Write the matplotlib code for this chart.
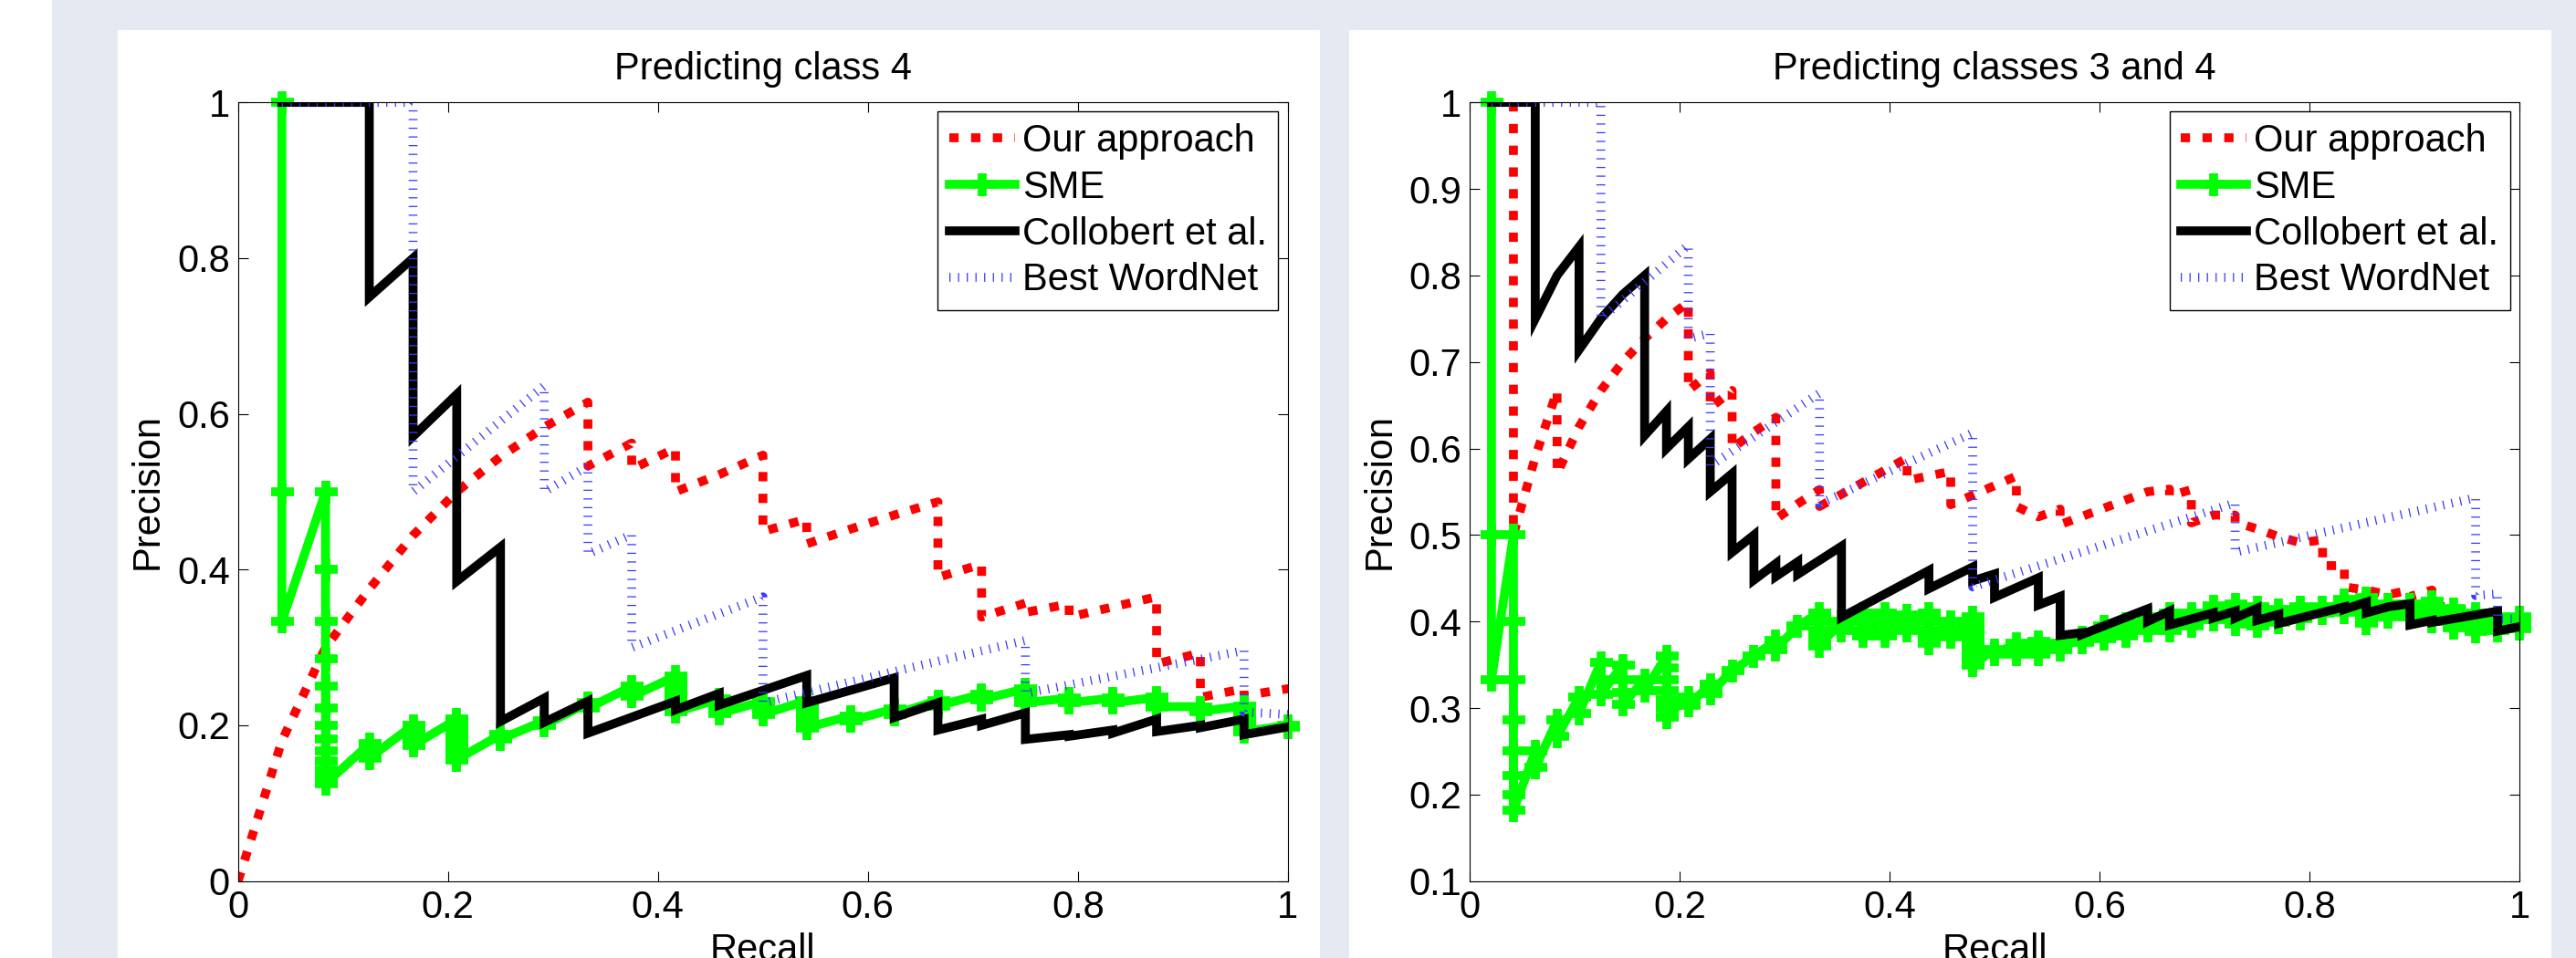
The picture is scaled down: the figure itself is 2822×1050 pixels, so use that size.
import matplotlib.pyplot as plt
from matplotlib.patches import Rectangle
from matplotlib.ticker import FuncFormatter

plt.rcParams['font.family'] = ['Liberation Sans', 'DejaVu Sans']
FS = 30

# ---------------- left panel: "Predicting class 4" (24 positives) ----------------
ours4_x = [0, 0.0417, 0.0833, 0.125, 0.1667, 0.2083, 0.25, 0.2917, 0.3333, 0.3333, 0.375, 0.375,
           0.4167, 0.4167, 0.4583, 0.5, 0.5, 0.5417, 0.5417, 0.5833, 0.625, 0.6667, 0.6667, 0.7083,
           0.7083, 0.75, 0.75, 0.7917, 0.7917, 0.8333, 0.875, 0.875, 0.9167, 0.9167, 0.9583, 0.9583,
           1.0, 1.0]
ours4_y = [0, 0.18, 0.3, 0.375, 0.444, 0.5, 0.545, 0.583, 0.615, 0.533, 0.5625, 0.529,
           0.556, 0.5, 0.522, 0.547, 0.449, 0.465, 0.433, 0.452, 0.47, 0.487, 0.39, 0.407,
           0.339, 0.357, 0.345, 0.356, 0.339, 0.352, 0.365, 0.279, 0.293, 0.236, 0.247, 0.238,
           0.247, 0.228]

sme4_recall = [0.0417, 0.0833, 0.125, 0.1667, 0.2083, 0.25, 0.2917, 0.3333, 0.375, 0.4167, 0.4583,
               0.5, 0.5417, 0.5833, 0.625, 0.6667, 0.7083, 0.75, 0.7917, 0.8333, 0.875, 0.9167,
               0.9583, 1.0]
sme4_prec = [
    [1.0, 0.5, 0.333],
    [0.5, 0.4, 0.333, 0.286, 0.25, 0.222, 0.2, 0.182, 0.167, 0.154, 0.143, 0.133, 0.125],
    [0.176, 0.167, 0.158],
    [0.2, 0.19, 0.182, 0.174],
    [0.208, 0.2, 0.192, 0.185, 0.179, 0.172, 0.167, 0.161, 0.156],
    [0.188, 0.182],
    [0.206, 0.2],
    [0.229, 0.222],
    [0.25, 0.243, 0.237],
    [0.263, 0.256, 0.25, 0.244, 0.238, 0.233, 0.227, 0.222, 0.217],
    [0.234, 0.229, 0.224, 0.22, 0.215],
    [0.231, 0.226, 0.222, 0.218, 0.214],
    [0.232, 0.228, 0.224, 0.22, 0.217, 0.213, 0.21, 0.206, 0.203, 0.2, 0.197],
    [0.212, 0.209, 0.206],
    [0.221, 0.217, 0.214],
    [0.232, 0.229, 0.225],
    [0.24, 0.236, 0.233],
    [0.247, 0.243, 0.24, 0.236, 0.233, 0.229],
    [0.235, 0.232, 0.229],
    [0.235, 0.232, 0.229],
    [0.236, 0.233, 0.23, 0.227, 0.224],
    [0.224, 0.221, 0.218],
    [0.225, 0.222, 0.219, 0.216, 0.213, 0.21, 0.207, 0.204, 0.201, 0.198, 0.195, 0.192],
    [0.2, 0.198],
]

coll4_x = [0.0417, 0.125, 0.125, 0.1667, 0.1667, 0.2083, 0.2083, 0.25, 0.25, 0.2917, 0.2917, 0.3333,
           0.3333, 0.4167, 0.4167, 0.4583, 0.4583, 0.5417, 0.5417, 0.625, 0.625, 0.6667, 0.6667,
           0.7083, 0.7083, 0.75, 0.75, 0.7917, 0.7917, 0.8333, 0.8333, 0.875, 0.875, 0.9167, 0.9167,
           0.9583, 0.9583, 1.0]
coll4_y = [1, 1, 0.75, 0.8, 0.571, 0.625, 0.385, 0.429, 0.205, 0.235, 0.204, 0.231,
           0.19, 0.231, 0.22, 0.241, 0.226, 0.264, 0.229, 0.261, 0.21, 0.229, 0.194,
           0.208, 0.2, 0.216, 0.182, 0.188, 0.186, 0.194, 0.19, 0.208, 0.192, 0.2, 0.197,
           0.208, 0.188, 0.198]

wn4_x = [0.0417, 0.1667, 0.1667, 0.2917, 0.2917, 0.3333, 0.3333, 0.375, 0.375, 0.5, 0.5,
         0.75, 0.75, 0.9583, 0.9583, 1.0]
wn4_y = [1, 1, 0.5, 0.636, 0.5, 0.533, 0.42, 0.445, 0.3, 0.365, 0.229,
         0.309, 0.241, 0.296, 0.217, 0.214]

# ---------------- right panel: "Predicting classes 3 and 4" (48 positives) ----------------
ours34_x = [0.0208, 0.0417, 0.0417, 0.0625, 0.0833, 0.0833, 0.1042, 0.125, 0.1458, 0.1667, 0.1875,
            0.2083, 0.2083, 0.2292, 0.2292, 0.25, 0.25, 0.2708, 0.2917, 0.2917, 0.3125, 0.3333,
            0.3333, 0.4167, 0.4167, 0.4583, 0.4583, 0.5208, 0.5208, 0.5417, 0.5625, 0.5625, 0.6458,
            0.6667, 0.6667, 0.6875, 0.6875, 0.7083, 0.7292, 0.7292, 0.75, 0.7708, 0.7917, 0.8125,
            0.8125, 0.8333, 0.8333, 0.8542, 0.875, 0.8958, 0.8958, 0.9167, 0.9167, 0.9375, 0.9583,
            0.9792, 0.9792, 1.0]
ours34_y = [1.0, 1.0, 0.5, 0.59, 0.667, 0.571, 0.625, 0.667, 0.7, 0.727, 0.75,
            0.769, 0.667, 0.6875, 0.647, 0.667, 0.6, 0.619, 0.636, 0.5185, 0.536, 0.5525,
            0.533, 0.589, 0.563, 0.5736, 0.535, 0.568, 0.533, 0.521, 0.53, 0.512, 0.55,
            0.553, 0.545, 0.5525, 0.514, 0.523, 0.523, 0.515, 0.507, 0.498, 0.491, 0.4945,
            0.4646, 0.4646, 0.44, 0.4364, 0.431, 0.4364, 0.429, 0.4364, 0.42, 0.415, 0.41,
            0.405, 0.394, 0.398]

sme34_recall = [0.0208, 0.0417, 0.0625, 0.0833, 0.1042, 0.125, 0.1458, 0.1667, 0.1875, 0.2083,
                0.2292, 0.25, 0.2708, 0.2917, 0.3125, 0.3333, 0.3542, 0.375, 0.3958, 0.4167,
                0.4375, 0.4583, 0.4792, 0.5, 0.5208, 0.5417, 0.5625, 0.5833, 0.6042, 0.625,
                0.6458, 0.6667, 0.6875, 0.7083, 0.7292, 0.75, 0.7708, 0.7917, 0.8125, 0.8333,
                0.8542, 0.875, 0.8958, 0.9167, 0.9375, 0.9583, 0.9792, 1.0]
sme34_prec = [
    [1.0, 0.5, 0.333],
    [0.5, 0.4, 0.333, 0.286, 0.25, 0.222, 0.2, 0.182],
    [0.25, 0.231],
    [0.286, 0.267],
    [0.3125, 0.294],
    [0.353, 0.333, 0.316],
    [0.35, 0.333, 0.318, 0.304],
    [0.333, 0.32],
    [0.36, 0.346, 0.333, 0.32, 0.31, 0.3, 0.29],
    [0.313, 0.303],
    [0.327, 0.317],
    [0.343],
    [0.36],
    [0.378, 0.368],
    [0.395],
    [0.41, 0.4, 0.39, 0.381, 0.372],
    [0.4, 0.39],
    [0.41, 0.4, 0.39, 0.383],
    [0.41, 0.4, 0.39, 0.383],
    [0.408, 0.398, 0.39],
    [0.41, 0.4, 0.39, 0.382, 0.375],
    [0.4, 0.39, 0.382],
    [0.405, 0.396, 0.387, 0.379, 0.371, 0.363, 0.356, 0.35],
    [0.368, 0.362],
    [0.375, 0.368, 0.362],
    [0.377, 0.37, 0.362],
    [0.375, 0.368],
    [0.382, 0.376],
    [0.395, 0.387, 0.38],
    [0.398, 0.39, 0.383],
    [0.405, 0.398, 0.39],
    [0.41, 0.4, 0.39],
    [0.41, 0.403, 0.395],
    [0.418, 0.41, 0.402],
    [0.42, 0.412, 0.404, 0.397],
    [0.417, 0.41, 0.402, 0.395],
    [0.414, 0.406, 0.399],
    [0.417, 0.41, 0.403],
    [0.417, 0.41],
    [0.425, 0.418, 0.411],
    [0.428, 0.42, 0.412, 0.405, 0.398],
    [0.42, 0.413, 0.405],
    [0.42, 0.413, 0.405],
    [0.423, 0.415, 0.408, 0.4],
    [0.415, 0.408, 0.4, 0.393],
    [0.41, 0.403, 0.396, 0.389],
    [0.405, 0.398, 0.39],
    [0.405, 0.398, 0.392],
]

coll34_x = [0.0208, 0.0625, 0.0625, 0.0833, 0.1042, 0.1042, 0.125, 0.1458, 0.1667, 0.1667, 0.1875,
            0.1875, 0.2083, 0.2083, 0.2292, 0.2292, 0.25, 0.25, 0.2708, 0.2708, 0.2917, 0.2917,
            0.3125, 0.3125, 0.3542, 0.3542, 0.4375, 0.4375, 0.4792, 0.4792, 0.5, 0.5, 0.5417,
            0.5417, 0.5625, 0.5625, 0.5833, 0.5833, 0.6458, 0.6458, 0.6667, 0.6667, 0.7083, 0.7083,
            0.7292, 0.7292, 0.75, 0.75, 0.7708, 0.7708, 0.8333, 0.8333, 0.8542, 0.8542, 0.875,
            0.8958, 0.8958, 0.9167, 0.9167, 0.9792, 0.9792, 1.0]
coll34_y = [1, 1, 0.75, 0.8, 0.833, 0.714, 0.75, 0.778, 0.8, 0.615, 0.643,
            0.6, 0.625, 0.588, 0.611, 0.55, 0.571, 0.48, 0.5, 0.448, 0.467, 0.452,
            0.469, 0.4545, 0.487, 0.405, 0.459, 0.438, 0.463, 0.447, 0.455, 0.428, 0.4505,
            0.419, 0.429, 0.384, 0.387, 0.385, 0.4146, 0.4, 0.412, 0.396, 0.41, 0.404,
            0.412, 0.404, 0.4153, 0.4013, 0.4083, 0.3978, 0.417, 0.414, 0.4224, 0.41, 0.417,
            0.4206, 0.396, 0.4013, 0.399, 0.412, 0.389, 0.394]

wn34_x = [0.0208, 0.125, 0.125, 0.2083, 0.2083, 0.2292, 0.2292, 0.3333, 0.3333, 0.4792, 0.4792,
          0.7292, 0.7292, 0.9583, 0.9583, 0.9792, 0.9792, 1.0]
wn34_y = [1, 1, 0.75, 0.835, 0.727, 0.733, 0.58, 0.664, 0.536, 0.618, 0.44,
          0.537, 0.48, 0.543, 0.43, 0.432, 0.403, 0.403]

labels = ['Our approach', 'SME', 'Collobert et al.', 'Best WordNet']


def flatten(recall, prec):
    xs, ys = [], []
    for r, group in zip(recall, prec):
        for p in group:
            xs.append(r)
            ys.append(p)
    return xs, ys


W, H = 2822, 1050
fig = plt.figure(figsize=(W / 100, H / 100), dpi=100, facecolor='white')

# page background: grey frame with two white panels
GRAY = '#e4e9f2'
fig.add_artist(Rectangle((57 / W, 0), 1 - 57 / W, 1, transform=fig.transFigure,
                         facecolor=GRAY, edgecolor='none', zorder=-10))
for x0, x1 in [(129, 1446), (1478, 2795)]:
    fig.add_artist(Rectangle((x0 / W, 0), (x1 - x0) / W, (H - 33) / H, transform=fig.transFigure,
                             facecolor='white', edgecolor='none', zorder=-9))

fmt = FuncFormatter(lambda v, _: '%g' % round(v, 2))


def draw(ax, title, ox, oy, sx, sy, cx, cy, wx, wy, ylim, yticks, ylabelpad):
    ax.plot(ox, oy, color='#ff0000', lw=7, linestyle=(0, (1.05, 1.4)), label=labels[0])
    ax.plot(sx, sy, color='#00ff00', lw=7, marker='+', ms=18, mew=7, label=labels[1],
            clip_on=False)
    ax.plot(cx, cy, color='black', lw=7, solid_joinstyle='miter', label=labels[2])
    ax.plot(wx, wy, color='#3a3aff', lw=7, linestyle=(0, (0.13, 0.85)), label=labels[3])

    ax.set_xlim(0, 1)
    ax.set_ylim(*ylim)
    ax.set_xticks([0, 0.2, 0.4, 0.6, 0.8, 1])
    ax.set_yticks(yticks)
    ax.xaxis.set_major_formatter(fmt)
    ax.yaxis.set_major_formatter(fmt)
    ax.tick_params(direction='in', length=7.7, width=0.8, top=True, right=True,
                   labelsize=FS, pad=6.5)
    for s in ax.spines.values():
        s.set_linewidth(0.8)
    ax.set_title(title, fontsize=FS, pad=18)
    ax.set_xlabel('Recall', fontsize=FS, labelpad=5)
    ax.set_ylabel('Precision', fontsize=FS, labelpad=ylabelpad)

    leg = ax.legend(loc='upper right', bbox_to_anchor=(0.991, 0.988), borderaxespad=0,
                    fontsize=FS, handlelength=1.72, handletextpad=0.2, labelspacing=0.26,
                    borderpad=0.3, fancybox=False, edgecolor='black', framealpha=1)
    leg.get_frame().set_linewidth(1.0)


ax1 = fig.add_axes([260.8 / W, (H - 965.7) / H, 1150 / W, 853.5 / H])
s4x, s4y = flatten(sme4_recall, sme4_prec)
draw(ax1, 'Predicting class 4', ours4_x, ours4_y, s4x, s4y, coll4_x, coll4_y, wn4_x, wn4_y,
     (0, 1), [0, 0.2, 0.4, 0.6, 0.8, 1], 9)

ax2 = fig.add_axes([1610 / W, (H - 965.7) / H, 1150 / W, 853.5 / H])
s34x, s34y = flatten(sme34_recall, sme34_prec)
draw(ax2, 'Predicting classes 3 and 4', ours34_x, ours34_y, s34x, s34y, coll34_x, coll34_y,
     wn34_x, wn34_y, (0.1, 1), [0.1, 0.2, 0.3, 0.4, 0.5, 0.6, 0.7, 0.8, 0.9, 1], 8)

fig.savefig('out.png', dpi=100, facecolor=fig.get_facecolor())
